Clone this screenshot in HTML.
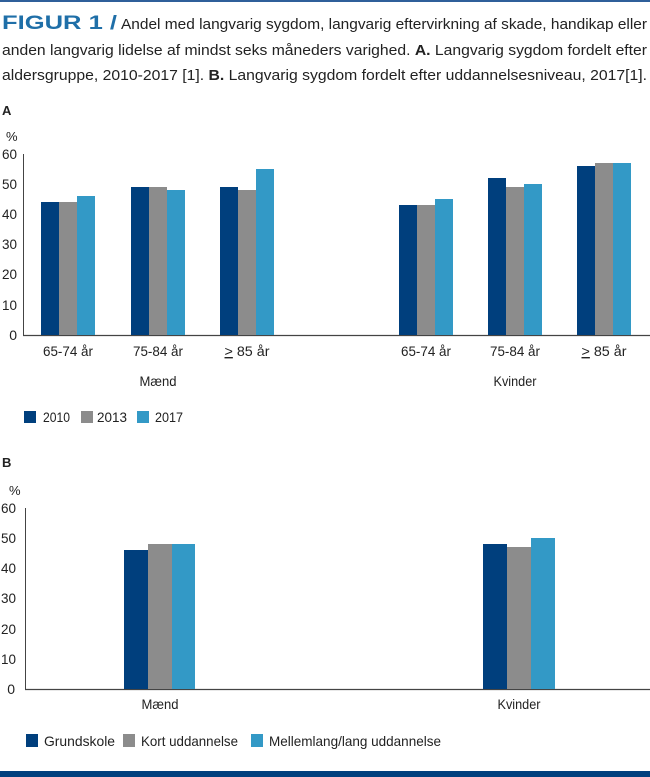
<!DOCTYPE html>
<html><head><meta charset="utf-8"><style>
html,body{margin:0;padding:0;background:#fff;}
svg{display:block;font-family:"Liberation Sans Narrow","Liberation Sans",sans-serif;}
</style></head><body>
<svg width="650" height="777" viewBox="0 0 650 777" xmlns="http://www.w3.org/2000/svg">
<rect x="0" y="0" width="650" height="2" fill="#2f5f9a"/>
<text x="2" y="29" font-size="19" font-weight="bold" fill="#1f6fa8" font-family="Liberation Sans,sans-serif" textLength="115" lengthAdjust="spacingAndGlyphs">FIGUR 1 /</text>
<text x="121" y="29" font-size="15" fill="#222" textLength="526" lengthAdjust="spacingAndGlyphs">Andel med langvarig sygdom, langvarig eftervirkning af skade, handikap eller</text>
<text x="2" y="55" font-size="15" fill="#222" textLength="645" lengthAdjust="spacingAndGlyphs">anden langvarig lidelse af mindst seks måneders varighed. <tspan font-weight="bold">A.</tspan> Langvarig sygdom fordelt efter</text>
<text x="2" y="80" font-size="15" fill="#222" textLength="645" lengthAdjust="spacingAndGlyphs">aldersgruppe, 2010-2017 [1]. <tspan font-weight="bold">B.</tspan> Langvarig sygdom fordelt efter uddannelsesniveau, 2017[1].</text>

<!-- Chart A -->
<text x="2" y="115" font-size="13" font-weight="bold" fill="#222">A</text>
<text x="6" y="141" font-size="13" fill="#222">%</text>
<g font-size="14" fill="#222" text-anchor="end">
<text x="17" y="159" textLength="15" lengthAdjust="spacingAndGlyphs">60</text><text x="17" y="189" textLength="15" lengthAdjust="spacingAndGlyphs">50</text><text x="17" y="219" textLength="15" lengthAdjust="spacingAndGlyphs">40</text>
<text x="17" y="249" textLength="15" lengthAdjust="spacingAndGlyphs">30</text><text x="17" y="279" textLength="15" lengthAdjust="spacingAndGlyphs">20</text><text x="17" y="310" textLength="15" lengthAdjust="spacingAndGlyphs">10</text><text x="17" y="340">0</text>
</g>
<line x1="23.5" y1="154" x2="23.5" y2="336" stroke="#444" stroke-width="1"/>
<line x1="23" y1="335.5" x2="650" y2="335.5" stroke="#444" stroke-width="1.2"/>
<g>
<rect x="41" y="202" width="18" height="133" fill="#003f7d"/>
<rect x="59" y="202" width="18" height="133" fill="#8c8c8c"/>
<rect x="77" y="196" width="18" height="139" fill="#3399c6"/>
<rect x="131" y="187" width="18" height="148" fill="#003f7d"/>
<rect x="149" y="187" width="18" height="148" fill="#8c8c8c"/>
<rect x="167" y="190" width="18" height="145" fill="#3399c6"/>
<rect x="220" y="187" width="18" height="148" fill="#003f7d"/>
<rect x="238" y="190" width="18" height="145" fill="#8c8c8c"/>
<rect x="256" y="169" width="18" height="166" fill="#3399c6"/>
<rect x="399" y="205" width="18" height="130" fill="#003f7d"/>
<rect x="417" y="205" width="18" height="130" fill="#8c8c8c"/>
<rect x="435" y="199" width="18" height="136" fill="#3399c6"/>
<rect x="488" y="178" width="18" height="157" fill="#003f7d"/>
<rect x="506" y="187" width="18" height="148" fill="#8c8c8c"/>
<rect x="524" y="184" width="18" height="151" fill="#3399c6"/>
<rect x="577" y="166" width="18" height="169" fill="#003f7d"/>
<rect x="595" y="163" width="18" height="172" fill="#8c8c8c"/>
<rect x="613" y="163" width="18" height="172" fill="#3399c6"/>
</g>
<g font-size="14" fill="#222" text-anchor="middle">
<text x="68" y="356" textLength="50" lengthAdjust="spacingAndGlyphs">65-74 år</text><text x="158" y="356" textLength="50" lengthAdjust="spacingAndGlyphs">75-84 år</text><text x="247" y="356" textLength="45" lengthAdjust="spacingAndGlyphs"><tspan text-decoration="underline">&gt;</tspan> 85 år</text>
<text x="426" y="356" textLength="50" lengthAdjust="spacingAndGlyphs">65-74 år</text><text x="515" y="356" textLength="50" lengthAdjust="spacingAndGlyphs">75-84 år</text><text x="604" y="356" textLength="45" lengthAdjust="spacingAndGlyphs"><tspan text-decoration="underline">&gt;</tspan> 85 år</text>
<text x="158" y="386" textLength="37" lengthAdjust="spacingAndGlyphs">Mænd</text><text x="515" y="386" textLength="43" lengthAdjust="spacingAndGlyphs">Kvinder</text>
</g>
<g font-size="14" fill="#222">
<rect x="24" y="411" width="12" height="12" fill="#003f7d"/><text x="43" y="422" textLength="27" lengthAdjust="spacingAndGlyphs">2010</text>
<rect x="81" y="411" width="12" height="12" fill="#8c8c8c"/><text x="97" y="422" textLength="30" lengthAdjust="spacingAndGlyphs">2013</text>
<rect x="137" y="411" width="12" height="12" fill="#3399c6"/><text x="155" y="422" textLength="28" lengthAdjust="spacingAndGlyphs">2017</text>
</g>

<!-- Chart B -->
<text x="2" y="467" font-size="13" font-weight="bold" fill="#222">B</text>
<text x="9" y="495" font-size="13" fill="#222">%</text>
<g font-size="14" fill="#222" text-anchor="end">
<text x="16" y="513" textLength="15" lengthAdjust="spacingAndGlyphs">60</text><text x="16" y="543" textLength="15" lengthAdjust="spacingAndGlyphs">50</text><text x="16" y="573" textLength="15" lengthAdjust="spacingAndGlyphs">40</text>
<text x="16" y="603" textLength="15" lengthAdjust="spacingAndGlyphs">30</text><text x="16" y="634" textLength="15" lengthAdjust="spacingAndGlyphs">20</text><text x="16" y="664" textLength="15" lengthAdjust="spacingAndGlyphs">10</text><text x="15" y="694">0</text>
</g>
<line x1="25.5" y1="508" x2="25.5" y2="690" stroke="#444" stroke-width="1"/>
<line x1="25" y1="689.5" x2="650" y2="689.5" stroke="#444" stroke-width="1.2"/>
<rect x="124" y="550" width="24" height="139" fill="#003f7d"/>
<rect x="148" y="544" width="24" height="145" fill="#8c8c8c"/>
<rect x="172" y="544" width="23" height="145" fill="#3399c6"/>
<rect x="483" y="544" width="24" height="145" fill="#003f7d"/>
<rect x="507" y="547" width="24" height="142" fill="#8c8c8c"/>
<rect x="531" y="538" width="24" height="151" fill="#3399c6"/>
<g font-size="14" fill="#222" text-anchor="middle">
<text x="160" y="709" textLength="37" lengthAdjust="spacingAndGlyphs">Mænd</text><text x="519" y="709" textLength="43" lengthAdjust="spacingAndGlyphs">Kvinder</text>
</g>
<g font-size="14" fill="#222">
<rect x="26" y="734" width="12" height="13" fill="#003f7d"/><text x="44" y="746" textLength="71" lengthAdjust="spacingAndGlyphs">Grundskole</text>
<rect x="123" y="734" width="12" height="13" fill="#8c8c8c"/><text x="141" y="746" textLength="97" lengthAdjust="spacingAndGlyphs">Kort uddannelse</text>
<rect x="251" y="734" width="12" height="13" fill="#3399c6"/><text x="269" y="746" textLength="172" lengthAdjust="spacingAndGlyphs">Mellemlang/lang uddannelse</text>
</g>
<rect x="0" y="771" width="650" height="6" fill="#003f7d"/>
</svg>
</body></html>
